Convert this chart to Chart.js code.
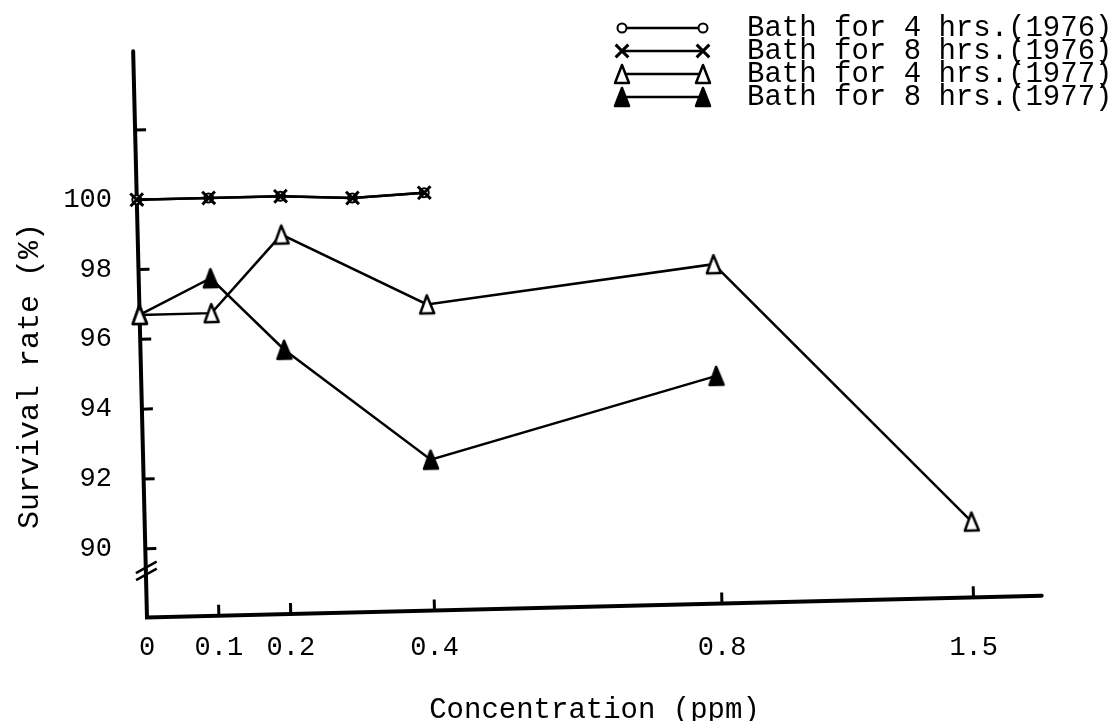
<!DOCTYPE html>
<html>
<head>
<meta charset="utf-8">
<title>Survival rate vs concentration</title>
<script src="https://cdn.jsdelivr.net/npm/chart.js@4.4.1/dist/chart.umd.min.js"></script>
<style>
  html, body { margin: 0; padding: 0; background: #fff; }
  #wrap { width: 1119px; height: 721px; position: relative; }
</style>
</head>
<body>
<div id="wrap"><canvas id="survivalChart"></canvas></div>
<script>
// concentration (ppm) of each measured point
const conc1976 = [0, 0.1, 0.2, 0.3, 0.4];
const conc1977Bath4 = [0, 0.1, 0.2, 0.4, 0.8, 1.5];
const conc1977Bath8 = [0, 0.1, 0.2, 0.4, 0.8];

// survival rate (%)
const bath4hrs1976 = [100, 100, 100, 99.9, 100];
const bath8hrs1976 = [100, 100, 100, 99.9, 100];
const bath4hrs1977 = [96.7, 96.7, 98.9, 96.8, 97.75, 90.2];
const bath8hrs1977 = [96.7, 97.7, 95.6, 92.35, 94.55];

const seriesLabels = [
    'Bath for 4 hrs.(1976)',
    'Bath for 8 hrs.(1976)',
    'Bath for 4 hrs.(1977)',
    'Bath for 8 hrs.(1977)',
];

const xTickValues = [0, 0.1, 0.2, 0.4, 0.8, 1.5];
const xTickLabels = ['0', '0.1', '0.2', '0.4', '0.8', '1.5'];
const yTickValues = [90, 92, 94, 96, 98, 100, 102];
const yTickLabels = ['90', '92', '94', '96', '98', '100', ''];

const FONT = "'Liberation Mono', 'DejaVu Sans Mono', monospace";
const TILT = -1.4 * Math.PI / 180;   // the scanned plot sits slightly crooked
const Y_BREAK = 89.35;

// x axis: linear up to 0.8, then drawn at half scale (1.5 sits close to 0.8)
const LinearScale = Chart.registry.getScale('linear');
const AXIS_BREAK = 0.8;
const AXIS_SQUEEZE = 0.5;

class SqueezedScale extends LinearScale {
    squeeze(v) { return v <= AXIS_BREAK ? v : AXIS_BREAK + (v - AXIS_BREAK) * AXIS_SQUEEZE; }
    stretch(w) { return w <= AXIS_BREAK ? w : AXIS_BREAK + (w - AXIS_BREAK) / AXIS_SQUEEZE; }
    getPixelForValue(value) {
        if (value === null || value === undefined) return NaN;
        const lo = this.squeeze(this.min);
        const hi = this.squeeze(this.max);
        return this.getPixelForDecimal((this.squeeze(value) - lo) / (hi - lo));
    }
    getValueForPixel(pixel) {
        const lo = this.squeeze(this.min);
        const hi = this.squeeze(this.max);
        return this.stretch(lo + this.getDecimalForPixel(pixel) * (hi - lo));
    }
}
SqueezedScale.id = 'squeezed';
SqueezedScale.defaults = LinearScale.defaults;
Chart.register(SqueezedScale);

// typewriter style triangles are narrower than Chart.js' equilateral ones
const makeTriangle = (filled) => {
    const c = document.createElement('canvas');
    c.width = 18;
    c.height = 22;
    const g = c.getContext('2d');
    g.beginPath();
    g.moveTo(9, 2);
    g.lineTo(16, 20);
    g.lineTo(2, 20);
    g.closePath();
    g.fillStyle = filled ? '#000' : '#fff';
    g.fill();
    g.lineWidth = 2.5;
    g.lineJoin = 'round';
    g.strokeStyle = '#000';
    g.stroke();
    return c;
};
const openTriangle = makeTriangle(false);
const solidTriangle = makeTriangle(true);

const toPoints = (xs, ys) => xs.map((x, i) => ({ x, y: ys[i] }));

const lineStyle = {
    borderColor: '#000',
    borderWidth: 2.5,
    pointBorderColor: '#000',
    tension: 0,
    fill: false,
    clip: false,
    order: 1,
};

const datasets = [
    { ...lineStyle, label: seriesLabels[0], data: toPoints(conc1976, bath4hrs1976),
      pointStyle: 'circle', pointRadius: 4.5, pointBackgroundColor: '#fff', pointBorderWidth: 2 },
    { ...lineStyle, label: seriesLabels[1], data: toPoints(conc1976, bath8hrs1976), order: 0,
      pointStyle: 'crossRot', pointRadius: 9, pointBackgroundColor: '#000', pointBorderWidth: 3 },
    { ...lineStyle, label: seriesLabels[2], data: toPoints(conc1977Bath4, bath4hrs1977),
      pointStyle: openTriangle, pointRadius: 9, pointBackgroundColor: '#fff', pointBorderWidth: 2.5 },
    { ...lineStyle, label: seriesLabels[3], data: toPoints(conc1977Bath8, bath8hrs1977),
      pointStyle: solidTriangle, pointRadius: 9, pointBackgroundColor: '#000', pointBorderWidth: 2.5 },
];

const tiltContext = (chart) => {
    const ctx = chart.ctx;
    const ox = chart.scales.x.getPixelForValue(0);
    const oy = chart.scales.y.getPixelForValue(chart.scales.y.min);
    ctx.translate(ox, oy);
    ctx.rotate(TILT);
    ctx.translate(-ox, -oy);
};

const drawAxes = (chart) => {
    const { ctx } = chart;
    const { x, y } = chart.scales;
    const x0 = x.getPixelForValue(0);
    const x1 = x.getPixelForValue(x.max);
    const yb = y.getPixelForValue(y.min);
    const yt = y.getPixelForValue(y.max);

    ctx.strokeStyle = '#000';
    ctx.lineWidth = 4;
    ctx.lineCap = 'round';
    ctx.beginPath();
    ctx.moveTo(x0, yt);
    ctx.lineTo(x0, yb);
    ctx.lineTo(x1, yb);
    ctx.stroke();

    ctx.lineWidth = 3;
    ctx.lineCap = 'butt';
    yTickValues.forEach((v) => {
        const py = y.getPixelForValue(v);
        ctx.beginPath();
        ctx.moveTo(x0, py);
        ctx.lineTo(x0 + 11, py);
        ctx.stroke();
    });
    xTickValues.forEach((v) => {
        if (v === 0) return;
        const px = x.getPixelForValue(v);
        ctx.beginPath();
        ctx.moveTo(px, yb);
        ctx.lineTo(px, yb - 11);
        ctx.stroke();
    });

    // axis break  //
    const pb = y.getPixelForValue(Y_BREAK);
    ctx.lineWidth = 2.5;
    [-3.5, 3.5].forEach((d) => {
        ctx.beginPath();
        ctx.moveTo(x0 - 10, pb + d + 5);
        ctx.lineTo(x0 + 11, pb + d - 6);
        ctx.stroke();
    });
};

const drawLegend = (chart) => {
    const { ctx } = chart;
    const rows = [28, 51, 74, 97];
    const lineStart = 622;
    const lineEnd = 703;
    const textX = 747;

    ctx.save();
    chart.data.datasets.forEach((ds, i) => {
        const ry = rows[i];
        ctx.strokeStyle = '#000';
        ctx.lineWidth = 2.5;
        ctx.beginPath();
        ctx.moveTo(lineStart, ry);
        ctx.lineTo(lineEnd, ry);
        ctx.stroke();

        [lineStart, lineEnd].forEach((px) => {
            ctx.fillStyle = ds.pointBackgroundColor;
            ctx.strokeStyle = ds.pointBorderColor;
            ctx.lineWidth = ds.pointBorderWidth;
            Chart.helpers.drawPoint(ctx, {
                pointStyle: ds.pointStyle,
                radius: ds.pointRadius,
                rotation: 0,
                borderWidth: ds.pointBorderWidth,
            }, px, ry);
        });

        ctx.fillStyle = '#000';
        ctx.font = '29px ' + FONT;
        ctx.textAlign = 'left';
        ctx.textBaseline = 'middle';
        ctx.fillText(ds.label, textX, ry);
    });
    ctx.restore();
};

const drawYTitle = (chart) => {
    const { ctx } = chart;
    ctx.save();
    ctx.translate(30, 376);
    ctx.rotate(-Math.PI / 2);
    ctx.fillStyle = '#000';
    ctx.font = '30px ' + FONT;
    ctx.textAlign = 'center';
    ctx.textBaseline = 'middle';
    ctx.fillText('Survival rate (%)', 0, 0);
    ctx.restore();
};

const paperPlugin = {
    id: 'paper',
    beforeDatasetsDraw(chart) {
        chart.ctx.save();
        tiltContext(chart);
        drawAxes(chart);
    },
    afterDatasetsDraw(chart) {
        chart.ctx.restore();
    },
    afterDraw(chart) {
        drawYTitle(chart);
        drawLegend(chart);
    },
};

new Chart(document.getElementById('survivalChart'), {
    type: 'line',
    data: { datasets },
    options: {
        responsive: true,
        maintainAspectRatio: false,
        animation: false,
        layout: { padding: { top: 30, right: 77, bottom: 0, left: 0 } },
        plugins: {
            legend: { display: false },
            tooltip: { enabled: false },
        },
        scales: {
            x: {
                type: 'squeezed',
                min: 0,
                max: 1.69,
                grid: { display: false, drawTicks: false },
                border: { display: false },
                afterBuildTicks: (scale) => {
                    scale.ticks = xTickValues.map((v) => ({ value: v }));
                },
                afterFit: (scale) => { scale.height = 103.5; },
                ticks: {
                    autoSkip: false,
                    maxRotation: 0,
                    minRotation: 0,
                    padding: 14,
                    color: '#000',
                    font: { family: FONT, size: 27 },
                    callback: (value) => xTickLabels[xTickValues.indexOf(value)],
                },
                title: {
                    display: true,
                    text: 'Concentration (ppm)',
                    color: '#000',
                    font: { family: FONT, size: 29, lineHeight: 0.72 },
                    padding: 0,
                },
            },
            y: {
                type: 'linear',
                min: 88.03,
                max: 104.25,
                grid: { display: false, drawTicks: false },
                border: { display: false },
                afterBuildTicks: (scale) => {
                    scale.ticks = yTickValues.map((v) => ({ value: v }));
                },
                afterFit: (scale) => { scale.width = 147; },
                ticks: {
                    autoSkip: false,
                    padding: 35,
                    color: '#000',
                    font: { family: FONT, size: 27 },
                    callback: (value) => yTickLabels[yTickValues.indexOf(value)],
                },
            },
        },
    },
    plugins: [paperPlugin],
});
</script>
</body>
</html>
